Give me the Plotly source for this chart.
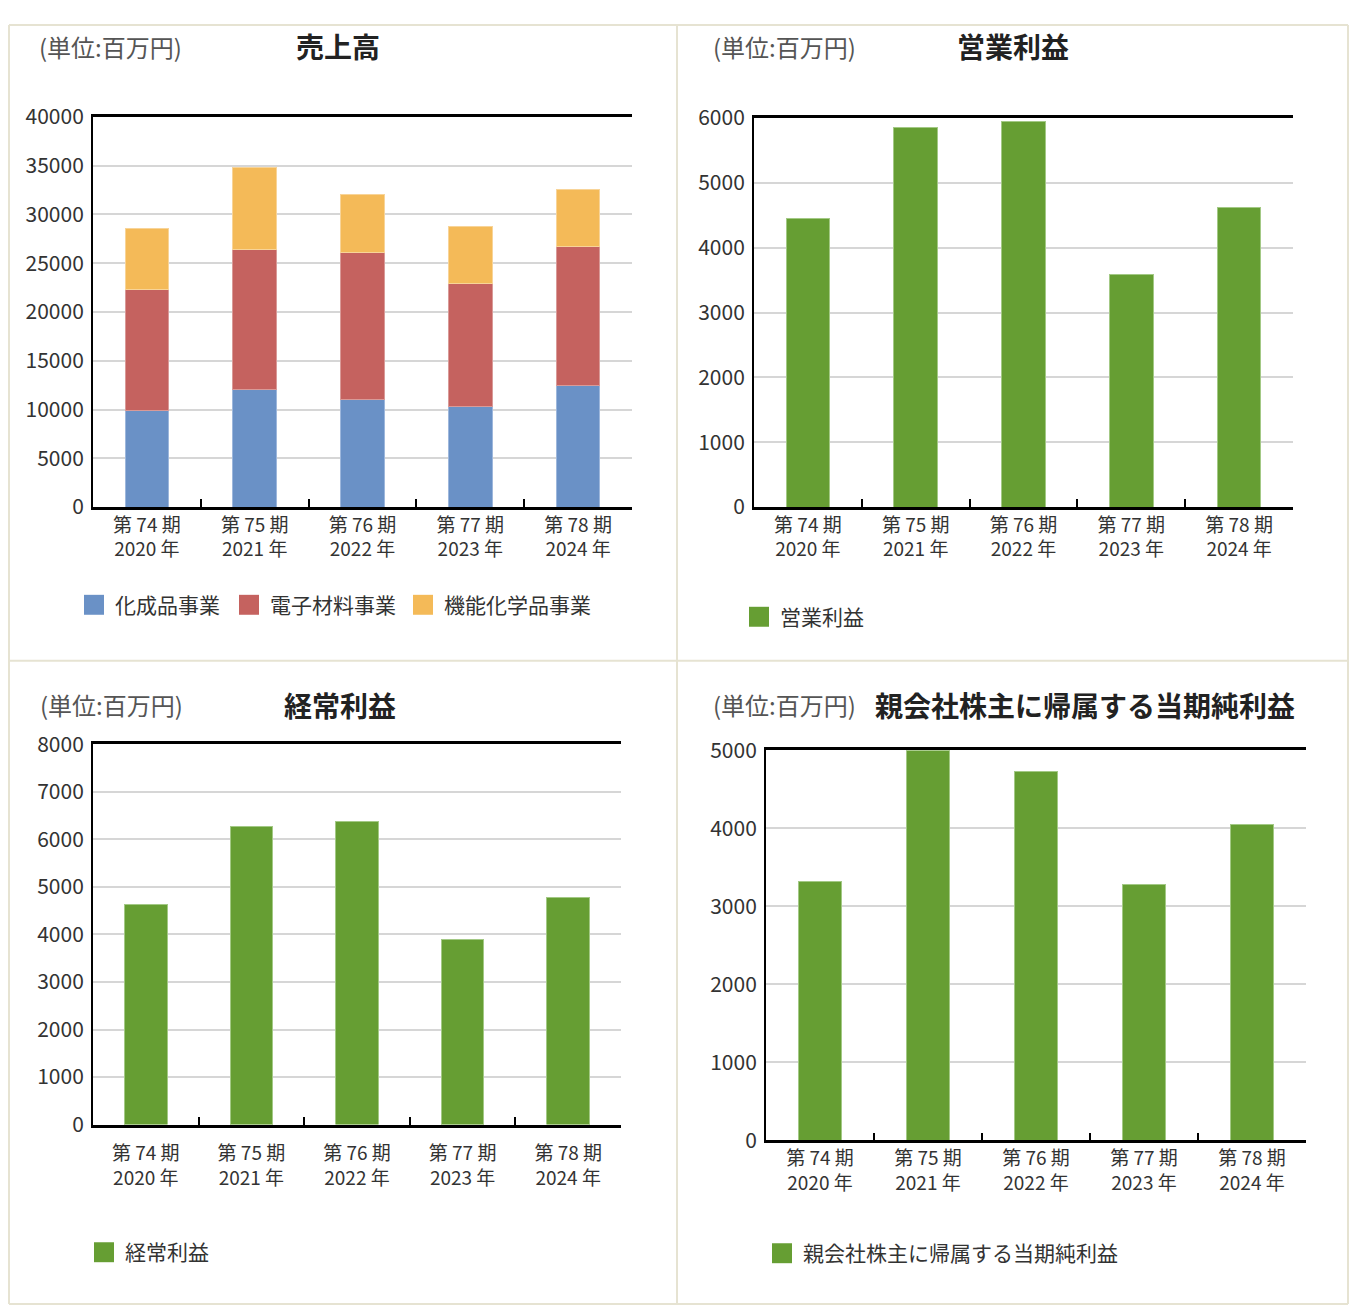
import plotly.graph_objects as go

W, H = 1341, 1312
# mapping from reference-picture pixels to figure pixels (measured from the rendered page)
OX, OY, SY = 8, 21.8, 0.9795

# ---------------- data ----------------
periods = ["第 74 期", "第 75 期", "第 76 期", "第 77 期", "第 78 期"]
years = ["2020 年", "2021 年", "2022 年", "2023 年", "2024 年"]

sales_kasei = [9860, 12070, 11050, 10310, 12510]      # 化成品事業
sales_denshi = [12420, 14360, 15070, 12650, 14230]    # 電子材料事業
sales_kino = [6250, 8430, 5950, 5820, 5820]           # 機能化学品事業

operating_profit = [4450, 5860, 5940, 3580, 4615]     # 営業利益
ordinary_profit = [4630, 6270, 6385, 3895, 4775]      # 経常利益
net_profit = [3315, 5000, 4735, 3285, 4057]           # 親会社株主に帰属する当期純利益

sales_names = ["化成品事業", "電子材料事業", "機能化学品事業"]
sales_colors = ["#6a91c6", "#c5625f", "#f4ba58"]
green = "#669e33"

cats = [p + "<br>" + y for p, y in zip(periods, years)]

FONT = "Noto Sans CJK JP"
TXT = "#333333"


def px(x):
    return (x - OX) / W


def py(y):
    return 1 - ((y - OY) / SY) / H


fig = go.Figure()

for vals, name, col, edge in zip([sales_kasei, sales_denshi, sales_kino], sales_names, sales_colors,
                                 ["#9db7dc", "#d99a98", "#f8d498"]):
    fig.add_trace(go.Bar(x=cats, y=vals, name=name, marker=dict(color=col, line=dict(color=edge, width=1)),
                         xaxis="x", yaxis="y", showlegend=False))

fig.add_trace(go.Bar(x=cats, y=operating_profit, name="営業利益",
                     marker=dict(color=green, line=dict(color="#a3c985", width=1)),
                     xaxis="x2", yaxis="y2", showlegend=False))
fig.add_trace(go.Bar(x=cats, y=ordinary_profit, name="経常利益",
                     marker=dict(color=green, line=dict(color="#a3c985", width=1)),
                     xaxis="x3", yaxis="y3", showlegend=False))
fig.add_trace(go.Bar(x=cats, y=net_profit, name="親会社株主に帰属する当期純利益",
                     marker=dict(color=green, line=dict(color="#a3c985", width=1)),
                     xaxis="x4", yaxis="y4", showlegend=False, cliponaxis=False))

panels = {
    1: dict(x=(93, 632), y=(114, 505), rng=40000, dt=5000, st=-1),
    2: dict(x=(754, 1293), y=(115, 505), rng=6000, dt=1000, st=-1),
    3: dict(x=(93, 621), y=(743, 1124), rng=8000, dt=1000, st=10),
    4: dict(x=(766, 1306), y=(749, 1140), rng=5000, dt=1000, st=-1),
}

layout = dict(
    width=W, height=H, margin=dict(l=0, r=0, t=0, b=0),
    paper_bgcolor="white", plot_bgcolor="white",
    barmode="stack", bargap=0.595,
    font=dict(family=FONT, color=TXT),
    showlegend=False,
)

for i, p in panels.items():
    xs = "xaxis" if i == 1 else f"xaxis{i}"
    ys = "yaxis" if i == 1 else f"yaxis{i}"
    xa = "x" if i == 1 else f"x{i}"
    ya = "y" if i == 1 else f"y{i}"
    layout[xs] = dict(
        domain=[px(p["x"][0]), px(p["x"][1])], anchor=ya,
        type="category", tickson="boundaries", ticks="inside", ticklen=8, tickwidth=2,
        tickcolor="black", showline=True, linecolor="black", linewidth=2.5, mirror=True,
        showgrid=False, tickfont=dict(size=19, color=TXT, family=FONT), ticklabelstandoff=p["st"],
    )
    layout[ys] = dict(
        domain=[py(p["y"][1]), py(p["y"][0])], anchor=xa,
        range=[0, p["rng"]], dtick=p["dt"], tick0=0, tickformat="d",
        showline=True, linecolor="black", linewidth=2, ticks="",
        showgrid=True, gridcolor="#d6d6d6", gridwidth=1.5, zeroline=False,
        tickfont=dict(size=21, color=TXT, family=FONT), ticklabelstandoff=3,
    )

annotations = []
shapes = []


def text(x, y, s, size, color=TXT, anchor="left", bold=False):
    annotations.append(dict(
        x=px(x), y=py(y), xref="paper", yref="paper", text=("<b>%s</b>" % s) if bold else s,
        showarrow=False, xanchor=anchor, yanchor="middle",
        font=dict(size=size, color=color, family=FONT)))


UNIT = "(単位:百万円)"
text(37, 43, UNIT, 24, "#555555")
text(338, 43, "売上高", 28, "#222222", "center", True)
text(711, 43, UNIT, 24, "#555555")
text(1013, 43, "営業利益", 28, "#222222", "center", True)
text(38, 703, UNIT, 24, "#555555")
text(340, 703, "経常利益", 28, "#222222", "center", True)
text(711, 703, UNIT, 24, "#555555")
text(873, 703, "親会社株主に帰属する当期純利益", 28, "#222222", "left", True)


def legend_item(x, y, color, label):
    shapes.append(dict(type="rect", xref="paper", yref="paper",
                       x0=px(x), x1=px(x + 20), y0=py(y + 9), y1=py(y - 11),
                       fillcolor=color, line=dict(width=0)))
    text(x + 29, y - 2, label, 21, TXT)


legend_item(84, 604, sales_colors[0], sales_names[0])
legend_item(239, 604, sales_colors[1], sales_names[1])
legend_item(413, 604, sales_colors[2], sales_names[2])
legend_item(749, 616, green, "営業利益")
legend_item(94, 1253, green, "経常利益")
legend_item(772, 1254, green, "親会社株主に帰属する当期純利益")

# panel borders
bc = "#e6e3d2"
yb = 1304
xr = min(1354, OX + W - 1)
xl = OX + 1
shapes.append(dict(type="line", xref="paper", yref="paper", x0=px(xl), x1=px(xl), y0=py(yb), y1=1,
                   line=dict(color=bc, width=2)))
shapes.append(dict(type="line", xref="paper", yref="paper", x0=px(xr), x1=px(xr), y0=py(yb), y1=1,
                   line=dict(color=bc, width=2)))
shapes.append(dict(type="line", xref="paper", yref="paper", x0=px(xl), x1=px(xr), y0=py(yb), y1=py(yb),
                   line=dict(color=bc, width=2)))
shapes.append(dict(type="line", xref="paper", yref="paper", x0=px(xl), x1=px(xr), y0=1, y1=1,
                   line=dict(color=bc, width=2)))
shapes.append(dict(type="line", xref="paper", yref="paper", x0=px(677), x1=px(677), y0=py(yb), y1=1,
                   line=dict(color=bc, width=2)))
shapes.append(dict(type="line", xref="paper", yref="paper", x0=px(xl), x1=px(xr), y0=py(659), y1=py(659),
                   line=dict(color=bc, width=2)))

layout["annotations"] = annotations
layout["shapes"] = shapes
fig.update_layout(**layout)

fig.write_html("out.html")
